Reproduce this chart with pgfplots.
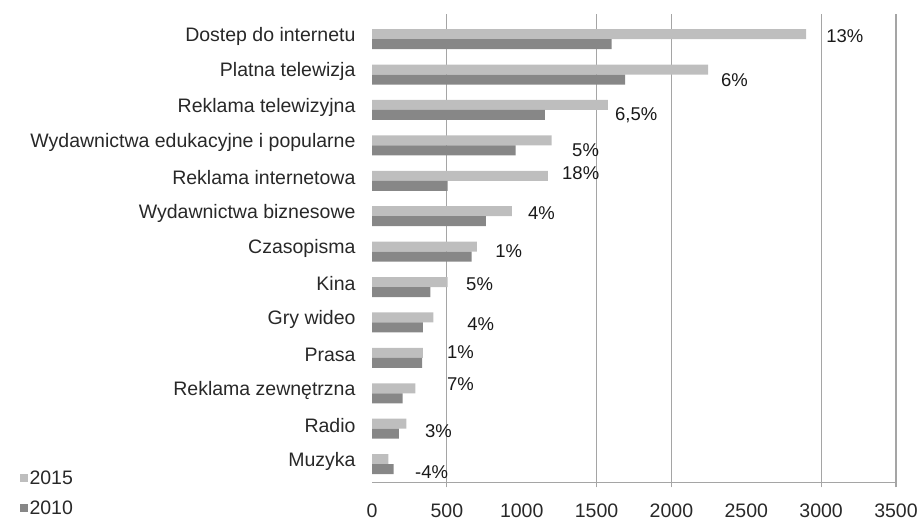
\documentclass[border=0pt]{standalone}
\usepackage{pgfplots}
\pgfplotsset{compat=1.18}
\usepackage{fontspec}
\setmainfont{Liberation Sans}
\definecolor{cA}{RGB}{190,190,190}
\definecolor{cB}{RGB}{135,135,135}
\definecolor{gridc}{RGB}{165,165,165}
\definecolor{txt}{RGB}{40,40,40}
\newcommand{\lf}{\fontsize{19.5}{22}\selectfont}
\newcommand{\pf}{\fontsize{18.5}{21}\selectfont}
\begin{document}
\begin{tikzpicture}[x=1pt,y=1pt]
\useasboundingbox (0,0) rectangle (921,521);
\begin{axis}[
  at={(372pt,38.5pt)}, anchor=south west,
  scale only axis, width=524pt, height=468.5pt,
  xmin=0, xmax=3500, ymin=-0.52, ymax=12.71,
  xtick={500,1500,2000,3000,3500},
  extra x ticks={0,1000,2500}, extra x tick style={grid=none, major tick style={draw=none}},
  ytick={0,...,12},
  yticklabels={Muzyka, Radio, Reklama zewnętrzna, Prasa, Gry wideo, Kina, Czasopisma, Wydawnictwa biznesowe, Reklama internetowa, Wydawnictwa edukacyjne i popularne, Reklama telewizyjna, Platna telewizja, Dostep do internetu},
  axis x line*=bottom, axis y line*=left,
  y axis line style={draw=none},
  x axis line style={gridc, line width=1.2pt, -},
  ytick style={draw=none},
  xtick style={gridc, line width=1.2pt},
  tick align=outside, major tick length=5pt,
  xmajorgrids, major grid style={gridc, line width=1.2pt},
  tick label style={font=\lf, text=txt},
  /pgf/number format/assume math mode=true, /pgf/number format/1000 sep={},
  scaled x ticks=false,
  yticklabel style={xshift=-8pt, yshift=3pt},
  xticklabel style={yshift=-13pt},
  legend style={at={(axis description cs:-0.673,0.03)}, anchor=north west, draw=none, fill=none, font=\lf, text=txt, legend cell align=left, row sep=11pt, inner sep=0pt},
]
\addplot[xbar, bar width=10pt, bar shift=5pt, fill=cA, draw=none,
  legend image code/.code={\fill[cA] (0pt,-4pt) rectangle (8pt,4pt);}]
  coordinates {(2900,12) (2245,11) (1575,10) (1200,9) (1175,8) (935,7) (700,6) (505,5) (410,4) (340,3) (290,2) (230,1) (110,0)};
\addplot[xbar, bar width=10pt, bar shift=-5pt, fill=cB, draw=none,
  legend image code/.code={\fill[cB] (0pt,-4pt) rectangle (8pt,4pt);}]
  coordinates {(1600,12) (1690,11) (1155,10) (960,9) (505,8) (760,7) (665,6) (390,5) (340,4) (335,3) (205,2) (180,1) (145,0)};
\addplot[draw=none, mark=none, forget plot, nodes near coords, point meta=explicit symbolic,
  nodes near coords style={anchor=west, inner sep=0pt, font=\pf, text=black!90}]
  coordinates {(3033,12.08) [13\%] (2331,10.85) [6\%] (1623,9.86) [6,5\%] (1336,8.86) [5\%]
  (1269,8.22) [18\%] (1042,7.09) [4\%] (822,6.02) [1\%] (628,5.09) [5\%] (635,3.96) [4\%]
  (501,3.17) [1\%] (501,2.27) [7\%] (354,0.93) [3\%] (287,-0.22) [-4\%]};
\legend{2015,2010}
\end{axis}
\end{tikzpicture}
\end{document}
